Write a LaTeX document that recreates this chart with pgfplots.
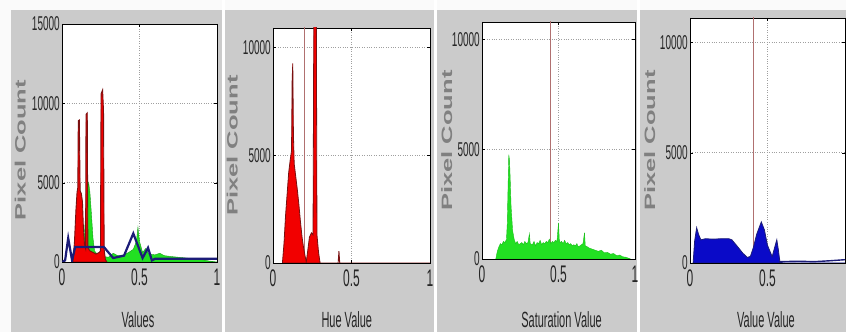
\documentclass[border=0pt]{standalone}
\usepackage{pgfplots}
\pgfplotsset{compat=1.18}
\usepackage{fontspec}
\setmainfont{Liberation Sans}
\usepackage{graphicx}
\definecolor{figgray}{HTML}{CBCBCB}
\definecolor{hred}{HTML}{F20000}
\definecolor{hredline}{HTML}{7A1010}
\definecolor{sgreen}{HTML}{22E022}
\definecolor{vblue}{HTML}{0A0AC8}
\definecolor{vnavy}{HTML}{1C1C78}
\definecolor{markline}{HTML}{B07070}

\pgfplotsset{
  hist/.style={
    scale only axis, anchor=south west,
    xmin=0, xmax=1, ymin=0,
    xtick={0,0.5,1},
    scaled y ticks=false, scaled x ticks=false,
    axis background/.style={fill=white},
    grid=major, major grid style={dotted, gray!75, line width=0.8pt},
    tick align=inside, major tick length=3pt, tick style={black},
    axis line style={black, line width=0.6pt},
    /pgf/number format/assume math mode=true,
    /pgf/number format/1000 sep={},
    xticklabel={\scalebox{0.5}[1]{\pgfmathprintnumber{\tick}}},
    yticklabel={\scalebox{0.5}[1]{\pgfmathprintnumber{\tick}}},
    xticklabel style={font=\fontsize{24}{24}\selectfont, yshift=-3pt, text=black!85},
    yticklabel style={font=\fontsize{20}{20}\selectfont, inner sep=2pt, text=black!85},
    ylabel={\scalebox{1.7}[1]{\bfseries Pixel Count}},
    every axis y label/.style={rotate=90, anchor=center, font=\fontsize{15}{15}\selectfont, text=black!50},
    every axis x label/.style={anchor=base, font=\fontsize{22}{22}\selectfont, text=black!85},
  },
}

\begin{document}
\begin{tikzpicture}[x=1pt,y=1pt]
\useasboundingbox (0,0) rectangle (846,332);
\fill[figgray] (0,0) rectangle (846,332);
\fill[white!96!gray] (0,322) rectangle (846,332);
\fill[white!96!gray] (0,0) rectangle (11,332);
\fill[white] (221.5,0) rectangle (224.5,332);
\fill[white] (433.5,0) rectangle (436.5,332);
\fill[white] (636.5,0) rectangle (639.5,332);

% ---------- Panel 1 ----------
\begin{axis}[hist, at={(62pt,70pt)}, width=155pt, height=238pt,
  ymax=15000, ytick={0,5000,10000,15000},
  xlabel={\scalebox{0.5}[1]{Values}},
  xlabel style={at={(axis description cs:0.49,0)}, yshift=-65pt},
  ylabel style={at={(axis description cs:-0.27,0.47)}}]
\addplot[fill=sgreen, draw=sgreen!70!black, line width=0.4pt] coordinates {
(0.13,0)(0.145,1800)(0.155,3500)(0.165,4600)(0.172,5000)(0.18,4400)(0.19,3000)(0.2,1500)(0.21,700)
(0.23,450)(0.26,350)(0.3,300)(0.33,550)(0.36,400)(0.4,450)(0.43,600)(0.46,800)(0.48,1300)(0.49,2200)
(0.5,1300)(0.52,600)(0.54,850)(0.56,500)(0.6,450)(0.63,550)(0.66,400)(0.7,350)(0.75,300)(0.8,250)
(0.85,200)(0.9,150)(0.95,60)(1,0)} \closedcycle;
\addplot[fill=hred, draw=hredline, line width=0.9pt] coordinates {
(0.07,0)(0.08,1200)(0.09,3300)(0.097,4400)(0.102,4700)(0.105,8900)(0.112,8950)(0.117,4500)
(0.125,4300)(0.132,3800)(0.138,2200)(0.145,1100)(0.152,850)(0.155,9300)(0.163,9400)(0.167,900)
(0.18,700)(0.2,600)(0.22,500)(0.24,600)(0.248,700)(0.252,10600)(0.262,10850)(0.268,9500)(0.272,800)
(0.28,150)(0.29,0)} \closedcycle;
\addplot[draw=vnavy, line width=2.2pt] coordinates {
(0,0)(0.02,100)(0.04,1500)(0.065,100)(0.085,950)(0.27,950)(0.33,250)(0.4,400)(0.46,1800)
(0.52,250)(0.555,900)(0.58,100)(0.6,200)(1,200)};
\end{axis}

% ---------- Panel 2 ----------
\begin{axis}[hist, at={(273pt,69pt)}, width=157pt, height=235pt,
  ymax=10900, ytick={0,5000,10000},
  xlabel={\scalebox{0.5}[1]{Hue Value}},
  xlabel style={at={(axis description cs:0.47,0)}, yshift=-64pt},
  ylabel style={at={(axis description cs:-0.26,0.5)}}]
\addplot[markline, line width=0.8pt] coordinates {(0.197,0)(0.197,12000)};
\addplot[fill=hred, draw=hredline, line width=0.8pt] coordinates {
(0.06,0)(0.07,900)(0.08,2200)(0.09,3200)(0.1,4200)(0.11,4800)(0.118,5200)(0.122,8500)(0.126,9260)
(0.13,6000)(0.135,4600)(0.145,4000)(0.155,3400)(0.165,2700)(0.175,1900)(0.185,1200)(0.195,700)
(0.205,300)(0.212,50)(0.22,500)(0.232,1200)(0.245,1400)(0.255,1300)(0.26,11500)(0.276,11500)
(0.28,1300)(0.29,500)(0.3,0)} \closedcycle;
\addplot[draw=hredline, line width=0.9pt] coordinates {(0.3,0)(0.415,0)(0.42,550)(0.425,0)(1,0)};
\end{axis}

% ---------- Panel 3 ----------
\begin{axis}[hist, at={(482pt,73pt)}, width=153pt, height=237pt,
  ymax=10800, ytick={0,5000,10000},
  xlabel={\scalebox{0.5}[1]{Saturation Value}},
  xlabel style={at={(axis description cs:0.52,0)}, yshift=-68pt},
  ylabel style={at={(axis description cs:-0.23,0.5)}}]
\addplot[markline, line width=0.8pt] coordinates {(0.45,0)(0.45,12000)};
\addplot[fill=sgreen, draw=sgreen!85!black, line width=0.4pt] coordinates {
(0.09,0)(0.1,350)(0.11,550)(0.12,700)(0.13,650)(0.14,800)(0.15,750)(0.16,900)(0.165,1600)
(0.17,3200)(0.175,4750)(0.18,4500)(0.185,3500)(0.19,2400)(0.2,1300)(0.21,900)(0.22,700)
(0.23,800)(0.24,650)(0.25,700)(0.26,750)(0.27,650)(0.28,800)(0.29,700)(0.3,750)(0.31,1150)
(0.315,700)(0.33,650)(0.34,800)(0.35,600)(0.36,750)(0.37,700)(0.38,850)(0.39,650)(0.4,750)
(0.41,700)(0.42,800)(0.43,750)(0.44,900)(0.45,700)(0.46,800)(0.47,750)(0.48,850)(0.49,800)
(0.5,1650)(0.505,900)(0.51,750)(0.52,800)(0.53,700)(0.54,850)(0.55,700)(0.56,750)(0.57,650)
(0.58,700)(0.59,600)(0.6,650)(0.61,600)(0.62,700)(0.63,550)(0.64,600)(0.65,650)(0.66,700)
(0.67,1200)(0.675,600)(0.69,550)(0.7,500)(0.72,450)(0.74,400)(0.76,350)(0.78,400)(0.8,280)
(0.82,300)(0.84,220)(0.86,250)(0.88,150)(0.9,180)(0.92,100)(0.94,80)(0.96,30)(0.97,0)} \closedcycle;
\end{axis}

% ---------- Panel 4 ----------
\begin{axis}[hist, at={(690pt,69pt)}, width=155pt, height=245pt,
  ymax=11100, ytick={0,5000,10000},
  xticklabels={\scalebox{0.5}[1]{0},\scalebox{0.5}[1]{0.5},{}},
  xlabel={\scalebox{0.5}[1]{Value Value}},
  xlabel style={at={(axis description cs:0.49,0)}, yshift=-64pt},
  ylabel style={at={(axis description cs:-0.26,0.5)}}]
\addplot[markline, line width=0.8pt] coordinates {(0.41,0)(0.41,12000)};
\addplot[fill=vblue, draw=vnavy, line width=0.8pt] coordinates {
(0.02,0)(0.03,1000)(0.043,1600)(0.055,1300)(0.07,1050)(0.1,1100)(0.15,1080)(0.2,1100)(0.25,1100)
(0.27,1050)(0.3,800)(0.34,450)(0.37,250)(0.39,300)(0.41,730)(0.43,1300)(0.46,1860)(0.48,1500)
(0.5,800)(0.53,290)(0.55,800)(0.56,1050)(0.57,600)(0.58,50)(0.6,0)(1,0)} \closedcycle;
\addplot[draw=vnavy, line width=1.4pt] coordinates {(0.58,60)(0.7,80)(0.8,60)(0.9,100)(1,150)};
\end{axis}
\end{tikzpicture}
\end{document}
